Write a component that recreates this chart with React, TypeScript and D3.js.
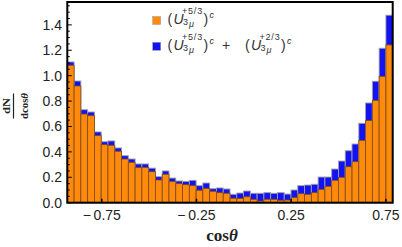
import * as d3 from "d3";

// histogram bins (cos theta)
const binStart = -0.932;
const binEnd = 0.786;
const nBins = 48;

// orange: (U_3mu^{+5/3})^c alone
const singletVals = [
  1.082, 0.919, 0.698, 0.685, 0.528, 0.457, 0.452, 0.405, 0.344, 0.318,
  0.276, 0.278, 0.244, 0.179, 0.224, 0.168, 0.15, 0.142, 0.134, 0.098,
  0.113, 0.09, 0.079, 0.074, 0.035, 0.033, 0.047, 0.027, 0.013, 0.027,
  0.027, 0.019, 0.021, 0.042, 0.071, 0.066, 0.079, 0.105, 0.129, 0.176,
  0.2, 0.283, 0.323, 0.491, 0.646, 0.806, 0.995, 1.242,
];

// blue: sum of both states
const combinedVals = [
  1.108, 0.958, 0.732, 0.714, 0.557, 0.48, 0.486, 0.431, 0.37, 0.344,
  0.305, 0.305, 0.272, 0.205, 0.25, 0.194, 0.171, 0.168, 0.176, 0.134,
  0.155, 0.11, 0.116, 0.108, 0.066, 0.076, 0.092, 0.074, 0.074, 0.079,
  0.074, 0.079, 0.068, 0.1, 0.134, 0.139, 0.145, 0.202, 0.202, 0.265,
  0.328, 0.409, 0.462, 0.625, 0.785, 0.956, 1.216, 1.476,
];

const xTicks = [-0.75, -0.25, 0.25, 0.75];
const yTicks = [0, 0.2, 0.4, 0.6, 0.8, 1.0, 1.2, 1.4];

const ORANGE = "#ff8a0c";
const BLUE = "#1212f2";

const fmtX = (v: number) =>
  v < 0 ? "\u2212\u2009" + Math.abs(v).toFixed(2) : v.toFixed(2);

function LegendTerm(props: { x: number; y: number; sup: string }) {
  const { x, y, sup } = props;
  const f = "Liberation Sans, Arial, sans-serif";
  return (
    <g fill="#333" fontFamily={f}>
      <text x={x} y={y} fontSize={14}>(</text>
      <text x={x + 6} y={y} fontSize={14} fontStyle="italic">U</text>
      <text x={x + 14.5} y={y - 10} fontSize={9} letterSpacing={0.8}>{sup}</text>
      <text x={x + 15.5} y={y + 1} fontSize={9}>3</text>
      <text x={x + 21.5} y={y + 3.5} fontSize={9} fontStyle="italic">μ</text>
      <text x={x + 36} y={y} fontSize={14}>)</text>
      <text x={x + 42} y={y - 6} fontSize={9} fontStyle="italic">c</text>
    </g>
  );
}

export default function App() {
  const width = 402;
  const height = 247;
  const left = 67.3;
  const right = 392.7;
  const top = 2;
  const bottom = 202.7;

  const x = d3.scaleLinear().domain([binStart, binEnd]).range([left, right]);
  const y = d3.scaleLinear().domain([0, 1.58]).range([bottom, top]);
  const bw = (binEnd - binStart) / nBins;

  const bins = singletVals.map((v, i) => ({
    x0: binStart + i * bw,
    x1: binStart + (i + 1) * bw,
    single: v,
    total: combinedVals[i],
  }));

  const minorY = d3.range(0, 1.58, 0.05);

  return (
    <svg
      width={width}
      height={height}
      style={{ position: "absolute", left: 0, top: 0, background: "white" }}
    >
      {/* blue (combined) bars */}
      {bins.map((b, i) => (
        <rect
          key={"b" + i}
          x={x(b.x0)}
          y={y(b.total)}
          width={x(b.x1) - x(b.x0)}
          height={y(0) - y(b.total)}
          fill={BLUE}
          stroke="#a0a0a0"
          strokeWidth={0.9}
        />
      ))}
      {/* orange bars */}
      {bins.map((b, i) => (
        <rect
          key={"o" + i}
          x={x(b.x0)}
          y={y(b.single)}
          width={x(b.x1) - x(b.x0)}
          height={y(0) - y(b.single)}
          fill={ORANGE}
          stroke="#7a4a1c"
          strokeWidth={0.8}
        />
      ))}

      {/* ticks */}
      {minorY.map((v, i) => {
        const major = Math.abs(v / 0.2 - Math.round(v / 0.2)) < 1e-6;
        return (
          <line
            key={"yt" + i}
            x1={left}
            x2={left + (major ? 4.5 : 2.5)}
            y1={y(v)}
            y2={y(v)}
            stroke="black"
            strokeWidth={1}
          />
        );
      })}
      {xTicks.map((v) => (
        <line
          key={"xt" + v}
          x1={x(v)}
          x2={x(v)}
          y1={bottom}
          y2={bottom - 4}
          stroke="black"
          strokeWidth={1.5}
        />
      ))}

      {/* frame */}
      <rect
        x={left}
        y={top}
        width={right - left}
        height={bottom - top}
        fill="none"
        stroke="black"
        strokeWidth={2}
      />

      {/* tick labels */}
      <g fontFamily="Liberation Sans, Arial, sans-serif" fontSize={14} fill="#222">
        {yTicks.map((v) => (
          <text key={"yl" + v} x={62} y={y(v) + 5} textAnchor="end">
            {v.toFixed(1)}
          </text>
        ))}
        {xTicks.map((v) => (
          <text key={"xl" + v} x={x(v)} y={220} textAnchor="middle">
            {fmtX(v)}
          </text>
        ))}
      </g>

      {/* axis titles */}
      <text
        x={222}
        y={241}
        textAnchor="middle"
        fontFamily="Liberation Serif, Times New Roman, serif"
        fontWeight="bold"
        fontSize={17}
        fill="#222"
      >
        cos<tspan fontStyle="italic">θ</tspan>
      </text>
      <g
        transform="translate(13.5,106) rotate(-90)"
        fontFamily="Liberation Serif, Times New Roman, serif"
        fontWeight="bold"
        fill="#222"
      >
        <text x={0} y={-3.5} fontSize={10} textAnchor="middle" textLength={16} lengthAdjust="spacingAndGlyphs">
          dN
        </text>
        <line x1={-12.5} x2={12.5} y1={0} y2={0} stroke="#222" strokeWidth={1.2} />
        <text x={0} y={14.8} fontSize={10} textAnchor="middle" textLength={26} lengthAdjust="spacingAndGlyphs">
          dcos<tspan fontStyle="italic">θ</tspan>
        </text>
      </g>

      {/* legend */}
      <rect x={152.7} y={16.5} width={8} height={8} fill={ORANGE} stroke="#999" strokeWidth={0.5} />
      <LegendTerm x={167.5} y={23.5} sup="+5/3" />
      <rect x={152.7} y={42.3} width={8} height={8} fill={BLUE} stroke="#999" strokeWidth={0.5} />
      <LegendTerm x={167.5} y={49.5} sup="+5/3" />
      <text x={222} y={49.5} fontSize={14} fill="#333" fontFamily="Liberation Sans, Arial, sans-serif">
        +
      </text>
      <LegendTerm x={245} y={49.5} sup="+2/3" />
    </svg>
  );
}
